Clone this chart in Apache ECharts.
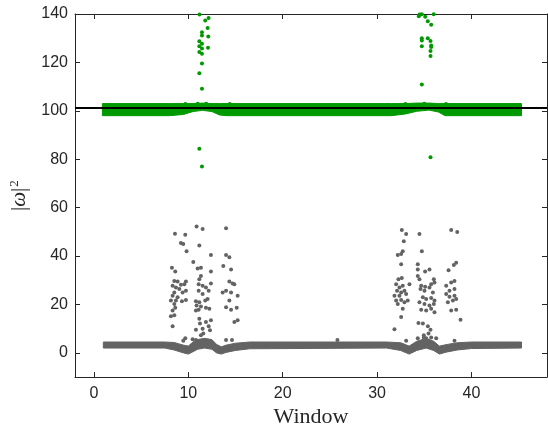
<!DOCTYPE html>
<html>
<head>
<meta charset="utf-8">
<script src="https://cdn.jsdelivr.net/npm/echarts@6/dist/echarts.min.js"></script>
<style>
    html, body { margin: 0; padding: 0; background: #fff; }
    #chart { width: 548px; height: 433px; }
</style>
</head>
<body>
<div id="chart"></div>
<script>
// tick labels
var windowTicks = [0, 10, 20, 30, 40];
var omegaTicks = [0, 20, 40, 60, 80, 100, 120, 140];
var refLevel = 101.1;

// dense band of green points (upper and lower edge)
var greenBandX = [0.9, 8.0, 9.5, 10.5, 11.5, 12.5, 13.3, 14.0, 31.5, 33.0, 34.2, 35.5, 36.5, 37.2, 45.3];
var greenBandTop = [103.0, 103.0, 103.0, 103.0, 103.2, 103.0, 103.0, 103.0, 103.0, 103.0, 103.2, 103.2, 103.0, 103.0, 103.0];
var greenBandBottom = [98.0, 98.0, 98.5, 99.7, 100.2, 99.7, 98.3, 98.0, 98.0, 98.7, 99.8, 100.3, 99.5, 98.0, 98.0];

// dense band of grey points (upper and lower edge)
var greyBandX = [1.0, 7.5, 8.5, 9.5, 10.0, 10.5, 11.0, 11.7, 12.5, 13.0, 13.5, 14.0, 15.0, 16.5, 31.0, 32.5, 33.4, 34.2, 35.2, 36.0, 36.6, 37.3, 38.5, 40.0, 45.3];
var greyBandTop = [4.5, 4.5, 4.3, 3.2, 2.8, 4.5, 5.5, 6.0, 5.5, 3.5, 2.5, 3.2, 4.0, 4.5, 4.5, 4.2, 2.8, 4.8, 6.0, 4.8, 2.8, 3.4, 4.2, 4.5, 4.5];
var greyBandBottom = [2.0, 2.0, 1.2, 0.0, -0.5, 0.5, 1.5, 2.0, 1.5, 0.0, -0.5, 0.2, 1.0, 1.7, 2.0, 1.0, -0.5, 1.0, 2.0, 1.0, -0.5, 0.3, 1.2, 1.8, 2.0];

// scattered green points
var greenOutliers = [
    [11.19, 139.8], [11.8, 137.3], [12.15, 138.3], [12.05, 134.2], [11.45, 132.5], [11.45, 131.1],
    [12.12, 130.7], [11.17, 128.7], [11.45, 127.7], [11.17, 126.7], [11.45, 125.7], [12.09, 126.1],
    [11.17, 124.3], [11.45, 123.6], [11.45, 119.6], [11.17, 115.5], [11.45, 109.1], [11.17, 84.3],
    [11.45, 77.0],
    [34.5, 139.8], [34.74, 139.9], [34.42, 139.1], [35.1, 138.9], [36.0, 139.9], [35.37, 137.0],
    [35.73, 135.6], [34.74, 130.0], [34.74, 129.1], [35.37, 130.0], [35.66, 128.8], [35.73, 127.0],
    [35.73, 126.4], [34.74, 126.7], [35.66, 124.7], [35.66, 122.6], [34.74, 110.9], [35.66, 80.8],
    [9.7, 102.8], [11.0, 102.9], [11.9, 102.9], [14.4, 102.8], [33.0, 102.8], [35.0, 102.9], [37.3, 102.8]
];

// scattered grey points
var greyOutliers = [
    [10.88, 52.2], [11.52, 51.2], [14.0, 51.5], [8.59, 49.2], [9.68, 48.8], [9.22, 45.4], [9.47, 45.0],
    [11.17, 44.4], [9.82, 42.0], [12.40, 40.4], [14.0, 40.4], [14.35, 39.5], [10.53, 37.6], [8.27, 35.2],
    [10.99, 34.9], [11.34, 35.2], [13.71, 35.9], [8.62, 33.6], [12.40, 33.6], [14.53, 34.5], [11.34, 31.8],
    [11.17, 30.4], [8.52, 29.7], [8.87, 29.5], [9.75, 29.5], [14.35, 29.5], [14.70, 28.7], [12.40, 28.7],
    [11.10, 28.4], [11.52, 27.7], [8.34, 27.7], [9.22, 28.1], [9.58, 28.4], [8.69, 27.0], [9.05, 26.4],
    [9.75, 25.7], [9.40, 25.0], [8.52, 25.0], [11.87, 27.0], [12.16, 25.7], [11.10, 25.7], [11.52, 24.3],
    [14.0, 25.7], [14.53, 25.0], [14.88, 28.4], [15.23, 23.6], [13.64, 25.0], [8.34, 23.6], [8.87, 23.0],
    [8.16, 21.6], [8.69, 21.6], [9.33, 21.3], [9.75, 21.9], [8.52, 20.2], [10.81, 21.3], [11.17, 20.9],
    [11.80, 21.6], [12.05, 22.3], [10.88, 19.6], [11.34, 19.2], [11.87, 18.6], [12.23, 18.2], [11.10, 17.8],
    [10.81, 17.5], [14.35, 21.6], [14.0, 18.9], [15.13, 18.6], [14.53, 17.8], [8.62, 18.6], [8.34, 17.5],
    [8.52, 15.5], [8.16, 15.1], [11.17, 14.1], [11.87, 12.8], [12.40, 13.5], [11.24, 12.1], [12.16, 11.0],
    [14.88, 12.8], [15.23, 13.5], [8.34, 11.0], [10.81, 9.6], [11.52, 10.0], [12.30, 9.4], [11.34, 7.3],
    [11.59, 8.0], [9.68, 6.0], [9.47, 5.0], [10.46, 5.6], [10.81, 5.3], [14.0, 5.3], [14.63, 5.3],
    [25.8, 5.3],
    [32.62, 50.8], [33.08, 49.1], [34.49, 49.1], [37.85, 50.8], [38.49, 49.9], [32.83, 46.1], [32.19, 40.4],
    [32.55, 40.9], [32.72, 42.0], [34.74, 42.0], [32.55, 36.6], [34.31, 36.6], [38.38, 37.2], [38.13, 36.3],
    [37.57, 34.1], [34.31, 34.5], [35.09, 33.6], [35.55, 34.5], [32.26, 30.4], [32.62, 30.9], [34.31, 31.8],
    [34.49, 30.4], [36.01, 30.4], [33.43, 28.4], [34.67, 27.7], [35.09, 27.3], [35.73, 28.4], [36.08, 29.1],
    [32.02, 28.4], [32.37, 27.0], [32.72, 27.7], [32.12, 25.7], [32.55, 25.0], [32.90, 25.7], [31.84, 23.6],
    [32.37, 23.6], [33.08, 24.3], [34.60, 26.4], [35.02, 25.7], [35.55, 27.0], [35.91, 25.0], [37.32, 27.7],
    [37.85, 29.1], [38.20, 29.7], [37.67, 25.7], [38.20, 26.4], [32.02, 21.6], [32.55, 21.9], [32.90, 20.9],
    [32.19, 20.2], [33.25, 21.6], [34.85, 23.0], [35.20, 22.3], [35.73, 22.7], [36.08, 21.6], [34.49, 20.9],
    [35.02, 20.2], [35.55, 19.6], [36.01, 20.2], [34.67, 17.8], [35.20, 17.5], [35.73, 18.2], [36.08, 16.8],
    [37.32, 24.3], [37.67, 23.2], [38.20, 23.6], [37.50, 20.9], [38.03, 21.6], [38.38, 22.3], [37.85, 17.5],
    [38.38, 17.8], [32.72, 18.2], [32.55, 14.8], [38.84, 13.7], [34.38, 12.4], [34.85, 12.1], [35.38, 11.0],
    [35.66, 9.6], [34.95, 7.3], [35.45, 8.0], [31.84, 9.8], [34.31, 6.0], [34.95, 6.4], [35.20, 6.0],
    [35.73, 6.4], [36.26, 6.0], [33.08, 5.0], [38.20, 5.0]
];

(function () {
    "use strict";
    var GREEN = '#009a00', GREY = '#636363', AXIS = '#262626';
    var chart = echarts.init(document.getElementById('chart'), null, { renderer: 'canvas' });

    // band drawn as a polygon between its upper and lower edge, via the axes
    function bandRender(xs, tops, bottoms, color) {
        return function (params, api) {
            var pts = [], i;
            for (i = 0; i < xs.length; i++) pts.push(api.coord([xs[i], tops[i]]));
            for (i = xs.length - 1; i >= 0; i--) pts.push(api.coord([xs[i], bottoms[i]]));
            return {
                type: 'polygon',
                shape: { points: pts },
                style: { fill: color, stroke: color, lineWidth: 1 }
            };
        };
    }

    var tickLabel = { color: AXIS, fontFamily: 'Liberation Sans', fontSize: 16 };

    var option = {
        animation: false,
        grid: { left: 75, right: 1, top: 14, bottom: 51 },
        xAxis: [{
            type: 'value', min: -2, max: 48, position: 'bottom',
            name: 'Window', nameLocation: 'middle', nameGap: 27,
            nameTextStyle: { fontFamily: 'Liberation Serif', fontSize: 22, color: AXIS },
            axisLine: { onZero: false, lineStyle: { color: AXIS, width: 1 } },
            axisTick: { inside: true, length: 5, customValues: windowTicks, lineStyle: { color: AXIS } },
            axisLabel: Object.assign({ customValues: windowTicks, margin: 8 }, tickLabel),
            splitLine: { show: false }
        }, {
            type: 'value', min: -2, max: 48, position: 'top',
            axisLine: { onZero: false, lineStyle: { color: AXIS, width: 1 } },
            axisTick: { inside: true, length: 5, customValues: windowTicks, lineStyle: { color: AXIS } },
            axisLabel: { show: false },
            splitLine: { show: false }
        }],
        yAxis: [{
            type: 'value', min: -10, max: 140, position: 'left',
            name: '|{w|ω}|{s|2}', nameLocation: 'middle', nameGap: 40, nameRotate: 90,
            nameTextStyle: {
                fontFamily: 'Liberation Serif', fontSize: 21, color: AXIS,
                rich: {
                    w: { fontFamily: 'Liberation Serif', fontStyle: 'italic', fontSize: 21, color: AXIS },
                    s: { fontFamily: 'Liberation Serif', fontSize: 13, color: AXIS, verticalAlign: 'top', padding: [0, 0, 10, 1] }
                }
            },
            axisLine: { onZero: false, lineStyle: { color: AXIS, width: 1 } },
            axisTick: { inside: true, length: 5, customValues: omegaTicks, lineStyle: { color: AXIS } },
            axisLabel: Object.assign({ customValues: omegaTicks, margin: 7 }, tickLabel),
            splitLine: { show: false }
        }, {
            type: 'value', min: -10, max: 140, position: 'right',
            axisLine: { onZero: false, lineStyle: { color: AXIS, width: 1 } },
            axisTick: { inside: true, length: 5, customValues: omegaTicks, lineStyle: { color: AXIS } },
            axisLabel: { show: false },
            splitLine: { show: false }
        }],
        series: [
            {
                type: 'custom', xAxisIndex: 0, yAxisIndex: 0, silent: true,
                renderItem: bandRender(greyBandX, greyBandTop, greyBandBottom, GREY),
                data: [[0, 0]]
            },
            {
                type: 'scatter', xAxisIndex: 0, yAxisIndex: 0, silent: true,
                symbolSize: 4, itemStyle: { color: GREY, opacity: 1 },
                data: greyOutliers
            },
            {
                type: 'custom', xAxisIndex: 0, yAxisIndex: 0, silent: true,
                renderItem: bandRender(greenBandX, greenBandTop, greenBandBottom, GREEN),
                data: [[0, 100]]
            },
            {
                type: 'scatter', xAxisIndex: 0, yAxisIndex: 0, silent: true,
                symbolSize: 4, itemStyle: { color: GREEN, opacity: 1 },
                data: greenOutliers,
                markLine: {
                    silent: true, symbol: 'none', animation: false,
                    label: { show: false },
                    lineStyle: { color: '#000', width: 2, type: 'solid' },
                    data: [{ yAxis: refLevel }]
                }
            }
        ]
    };
    chart.setOption(option);
})();
</script>
</body>
</html>
